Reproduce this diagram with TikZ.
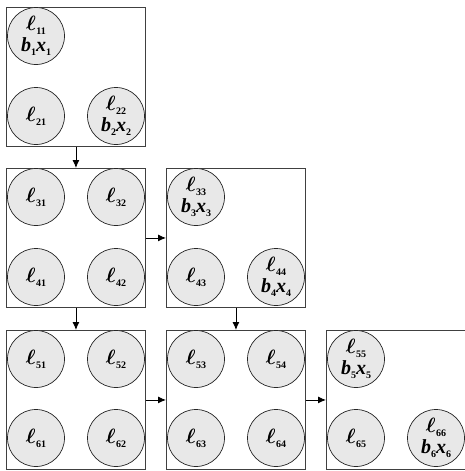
\documentclass[tikz,border=0pt]{standalone}
\usepackage{fontspec}
\setmainfont{Liberation Serif}
\usetikzlibrary{arrows.meta}
\newcommand\subn[1]{\raisebox{-4pt}{\fontsize{10}{10}\selectfont\bfseries\upshape #1}}
\newcommand\ellsub[1]{{\boldmath$\ell$}\kern0.5pt\subn{#1}}
\newcommand\bxsub[1]{{\bfseries\itshape b}\subn{#1}{\bfseries\itshape x}\subn{#1}}
\begin{document}
\begin{tikzpicture}[x=1pt,y=-1pt,
  cellbox/.style={draw=black!75, line width=0.9pt, minimum width=139pt, minimum height=139pt, inner sep=0pt, anchor=north west},
  circ/.style={circle, draw=black!85, line width=0.7pt, fill=black!9, minimum size=57pt, inner sep=0pt, align=center, font=\fontsize{20}{21}\selectfont},
  arr/.style={-{Latex[length=8pt,width=7pt]}, line width=0.9pt}]
\useasboundingbox (0,0) rectangle (465,471);
% boxes
\node[cellbox] (A) at (6,7) {};
\node[cellbox] (B) at (6,168) {};
\node[cellbox] (C) at (166,168) {};
\node[cellbox] (D) at (6,330) {};
\node[cellbox] (E) at (166,330) {};
\node[cellbox] (F) at (326,330) {};
% box A
\node[circ] (c11) at (36,36) {\ellsub{11}\\\bxsub{1}};
\node[circ] (c21) at (36,116) {\ellsub{21}};
\node[circ] (c22) at (116,116) {\ellsub{22}\\\bxsub{2}};
% box B
\node[circ] (c31) at (36,197) {\ellsub{31}};
\node[circ] (c32) at (116,197) {\ellsub{32}};
\node[circ] (c41) at (36,277) {\ellsub{41}};
\node[circ] (c42) at (116,277) {\ellsub{42}};
% box C
\node[circ] (c33) at (196,197) {\ellsub{33}\\\bxsub{3}};
\node[circ] (c43) at (196,277) {\ellsub{43}};
\node[circ] (c44) at (276,277) {\ellsub{44}\\\bxsub{4}};
% box D
\node[circ] (c51) at (36,359) {\ellsub{51}};
\node[circ] (c52) at (116,359) {\ellsub{52}};
\node[circ] (c61) at (36,438) {\ellsub{61}};
\node[circ] (c62) at (116,438) {\ellsub{62}};
% box E
\node[circ] (c53) at (196,359) {\ellsub{53}};
\node[circ] (c54) at (276,359) {\ellsub{54}};
\node[circ] (c63) at (196,438) {\ellsub{63}};
\node[circ] (c64) at (276,438) {\ellsub{64}};
% box F
\node[circ] (c55) at (356,359) {\ellsub{55}\\\bxsub{5}};
\node[circ] (c65) at (356,438) {\ellsub{65}};
\node[circ] (c66) at (436,438) {\ellsub{66}\\\bxsub{6}};
% arrows
\draw[arr] (A.south) -- (B.north);
\draw[arr] (B.east) -- (C.west);
\draw[arr] (B.south) -- (D.north);
\draw[arr] (C.south) -- (E.north);
\draw[arr] (D.east) -- (E.west);
\draw[arr] (E.east) -- (F.west);
\end{tikzpicture}
\end{document}
